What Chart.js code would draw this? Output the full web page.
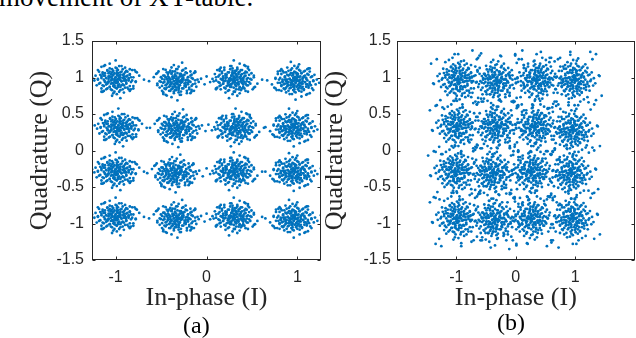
<!DOCTYPE html>
<html>
<head>
<meta charset="utf-8">
<script src="https://cdn.jsdelivr.net/npm/chart.js@4"></script>
<style>
  body { margin: 0; width: 636px; height: 338px; overflow: hidden; background: #fff; position: relative; }
  .plot { position: absolute; top: 0; height: 338px; }
  .txt { position: absolute; font-family: "Liberation Serif", "Times New Roman", serif; color: #000; white-space: nowrap; }
</style>
</head>
<body>
<div class="txt" style="left:-1px; top:-16px; font-size:27px; line-height:27px;">movement of XY-table.</div>
<div class="plot" style="left:0; width:330px;"><canvas id="plot_a"></canvas></div>
<div class="plot" style="left:300px; width:336px;"><canvas id="plot_b"></canvas></div>
<div class="txt" style="left:183px; top:313px; font-size:24px; line-height:24px;">(a)</div>
<div class="txt" style="left:497px; top:310px; font-size:24px; line-height:24px;">(b)</div>
<script>
const xTicks = [-1, 0, 1];
const yTicks = [-1.5, -1, -0.5, 0, 0.5, 1, 1.5];

// 16-QAM cluster centres, [I, Q]
const centresA = [
  [-1.00, 0.97], [-0.32, 0.95], [0.30, 0.97], [0.98, 0.96],
  [-0.97, 0.31], [-0.31, 0.31], [0.32, 0.31], [0.96, 0.32],
  [-1.00, -0.29], [-0.34, -0.31], [0.30, -0.29], [0.96, -0.29],
  [-1.00, -0.91], [-0.32, -0.93], [0.30, -0.91], [0.96, -0.93]
];
const centresB = [
  [-0.97, 0.97], [-0.32, 0.95], [0.35, 0.97], [0.99, 0.97],
  [-0.99, 0.33], [-0.32, 0.33], [0.32, 0.33], [0.96, 0.28],
  [-1.02, -0.29], [-0.38, -0.31], [0.26, -0.29], [0.93, -0.31],
  [-0.99, -0.93], [-0.35, -0.95], [0.26, -0.93], [0.96, -0.93]
];

// scatter of received samples round a centre, in hundredths [dI, dQ]
const spreadA = [
  [2,-3],[-5,4],[8,1],[-1,-7],[4,6],[-9,-2],[0,3],[6,-6],[-3,9],[11,2],
  [-7,-5],[3,0],[-12,4],[5,10],[1,-11],[-4,-1],[9,-4],[-2,6],[14,-1],[-6,8],
  [7,4],[-10,-8],[2,12],[-15,1],[12,7],[0,-4],[-8,2],[4,-9],[17,-3],[-3,-13],
  [6,2],[-1,1],[10,-10],[-13,-4],[3,5],[-5,-9],[8,9],[-18,-1],[1,-2],[13,3],
  [-7,11],[5,-2],[-2,-5],[20,5],[-11,7],[2,8],[-4,3],[9,11],[-16,-7],[6,-12],
  [0,15],[-9,5],[15,-8],[-1,-9],[3,-15],[-6,-3],[11,-1],[-14,10],[7,-7],[-3,1],
  [4,3],[-20,3],[18,9],[-8,-12],[1,6],[10,5],[-5,14],[2,-7],[-12,-11],[13,-12],
  [24,0],[-23,-4],[5,17],[-2,-17],[16,12],[-10,0],[8,-1],[-4,7],[0,-1],[6,13],
  [12,-14],[-15,12],[17,10],[-11,-15]
];
const spreadB = [
  [3,-4],[-7,6],[12,2],[-2,-10],[6,9],[-13,-3],[0,4],[9,-9],[-4,13],[16,3],
  [-10,-7],[4,0],[-18,6],[7,15],[2,-16],[-6,-1],[13,-6],[-3,9],[21,-2],[-9,12],
  [10,6],[-15,-12],[3,18],[-22,2],[18,10],[0,-6],[-12,3],[6,-13],[25,-4],[-4,-19],
  [9,3],[-1,2],[15,-15],[-19,-6],[4,7],[-8,-13],[12,13],[-27,-2],[1,-3],[19,4],
  [-10,17],[7,-3],[-3,-8],[30,8],[-16,10],[3,12],[-6,4],[14,16],[-24,-10],[9,-18],
  [0,23],[-13,7],[22,-12],[-2,-13],[5,-22],[-9,-4],[16,-1],[-21,15],[10,-10],[-4,1],
  [6,5],[-29,5],[27,13],[-12,-18],[2,9],[15,7],[-7,21],[3,-10],[-18,-16],[20,-18],
  [35,0],[-34,-6],[8,26],[-3,-26],[24,18],[-15,0],[12,-2],[-6,10],[0,-1],[9,20],
  [-38,22],[40,-20],[-25,-28],[28,30],[-5,35],[33,-30],[-30,-35],[6,-38]
];

const flips = [[1, 1], [-1, 1], [1, -1], [-1, -1]];

function cloud(centres, spread, kx, ky) {
  const pts = [];
  centres.forEach(([ci, cq], k) => {
    const [sx, sy] = flips[k % 4];
    spread.forEach(([dx, dy]) => {
      pts.push({x: ci + sx * dx * kx / 100, y: cq + sy * dy * ky / 100});
      pts.push({x: ci - sy * dy * kx / 100, y: cq + sx * dx * ky / 100});
    });
  });
  return pts;
}

// box round the axes with inward ticks, like matlab
const frame = {
  id: 'frame',
  afterDatasetsDraw(chart) {
    const {ctx, chartArea: a, scales: {x, y}} = chart;
    const l = Math.round(a.left) + 0.5, r = Math.round(a.right) - 0.5;
    const t = Math.round(a.top) + 0.5, b = Math.round(a.bottom) - 0.5;
    ctx.save();
    ctx.strokeStyle = '#262626';
    ctx.lineWidth = 1;
    ctx.strokeRect(l, t, r - l, b - t);
    ctx.beginPath();
    xTicks.forEach(v => {
      const px = Math.round(x.getPixelForValue(v)) + 0.5;
      ctx.moveTo(px, b); ctx.lineTo(px, b - 3);
      ctx.moveTo(px, t); ctx.lineTo(px, t + 3);
    });
    yTicks.forEach(v => {
      const py = Math.round(y.getPixelForValue(v)) + 0.5;
      ctx.moveTo(l, py); ctx.lineTo(l + 3, py);
      ctx.moveTo(r, py); ctx.lineTo(r - 3, py);
    });
    ctx.stroke();
    ctx.restore();
  }
};

const tickFont = {family: '"Liberation Sans", Arial, sans-serif', size: 16};
const titleFont = {family: '"Liberation Serif", "Times New Roman", serif', size: 26};

function makePlot(id, points, xMin, xMax, o) {
  return new Chart(document.getElementById(id), {
    type: 'scatter',
    data: {
      datasets: [{
        data: points,
        pointRadius: 1.4,
        pointHoverRadius: 0,
        borderWidth: 0,
        backgroundColor: '#0072BD'
      }]
    },
    options: {
      responsive: true,
      maintainAspectRatio: false,
      animation: false,
      events: [],
      layout: {padding: {left: 0, top: 41, right: o.padRight, bottom: 0}},
      scales: {
        x: {
          type: 'linear',
          min: xMin,
          max: xMax,
          afterBuildTicks: s => { s.ticks = xTicks.map(v => ({value: v})); },
          afterFit: s => { s.height = 78; },
          grid: {display: false, drawTicks: false},
          border: {display: false},
          ticks: {font: tickFont, color: '#262626', padding: 8, autoSkip: false, maxRotation: 0,
                  callback: v => String(v)},
          title: {display: true, text: 'In-phase (I)', font: titleFont, color: '#262626',
                  padding: {top: 0, bottom: 24}}
        },
        y: {
          type: 'linear',
          min: -1.5,
          max: 1.5,
          afterBuildTicks: s => { s.ticks = yTicks.map(v => ({value: v})); },
          afterFit: s => { s.width = o.yWidth; },
          grid: {display: false, drawTicks: false},
          border: {display: false},
          ticks: {font: tickFont, color: '#262626', padding: o.tickPad, autoSkip: false,
                  callback: v => String(v)},
          title: {display: true, text: 'Quadrature (Q)', font: titleFont, color: '#262626',
                  padding: {top: o.titlePad, bottom: 0}}
        }
      },
      plugins: {legend: {display: false}, tooltip: {enabled: false}}
    },
    plugins: [frame]
  });
}

makePlot('plot_a', cloud(centresA, spreadA, 1.3, 1.1), -1.26, 1.26,
         {yWidth: 92, padRight: 9, tickPad: 8, titlePad: 25});
makePlot('plot_b', cloud(centresB, spreadB, 1.2, 1.0), -2, 2,
         {yWidth: 97, padRight: 1, tickPad: 6, titlePad: 20});
</script>
</body>
</html>
